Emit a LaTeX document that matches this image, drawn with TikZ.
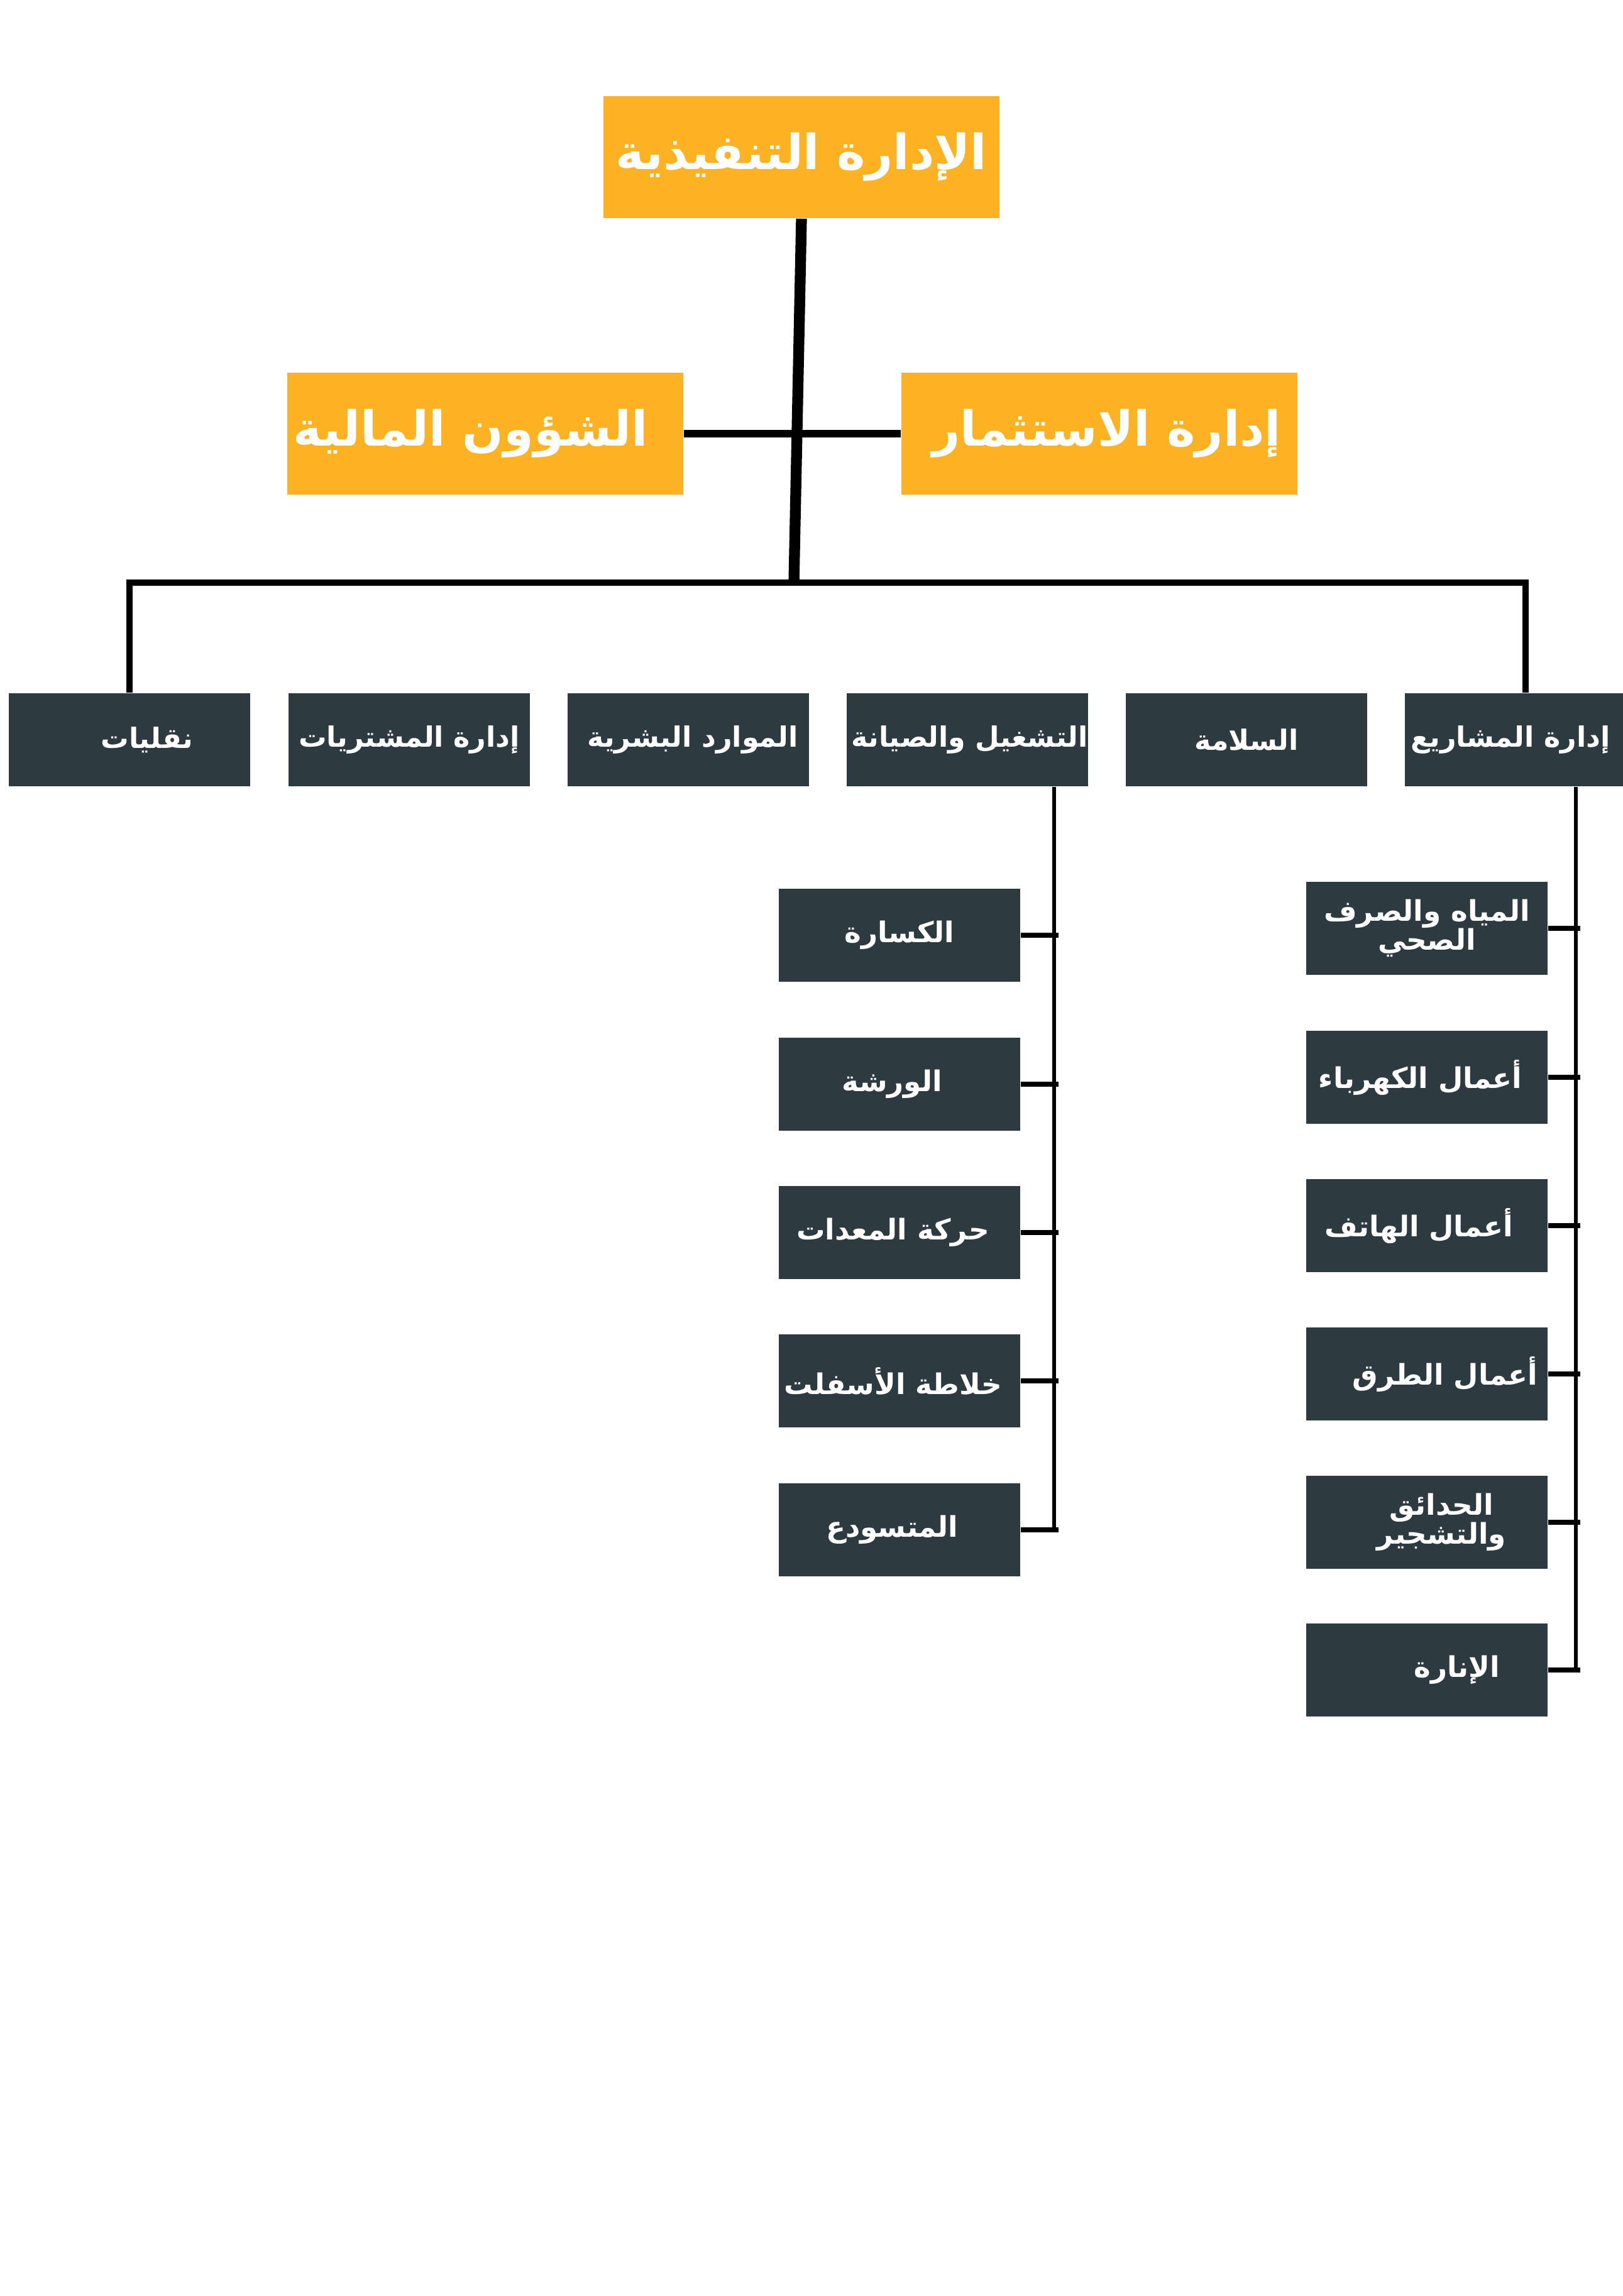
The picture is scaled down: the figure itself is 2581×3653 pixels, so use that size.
\documentclass[tikz,border=0pt]{standalone}
\usepackage{fontspec}
\usepackage{xcolor}
\usepackage{tikz}
\usetikzlibrary{positioning,calc}
\TeXXeTstate=1
\newfontfamily\arabicfont[Script=Arabic]{DejaVu Sans}
\definecolor{headorange}{RGB}{253,178,35}
\definecolor{deptslate}{RGB}{45,58,63}
\newcommand{\ar}[2][0pt]{\kern#1\kern#1{\arabicfont\bfseries\beginR #2\endR}}

\begin{document}
\begin{tikzpicture}[x=0.08136mm,y=-0.08136mm,
  headbox/.style={fill=headorange, text=white, inner sep=0pt, minimum width=51.3mm, minimum height=15.8mm, font=\fontsize{17.8}{21}\selectfont},
  deptbox/.style={fill=deptslate, text=white, inner sep=0pt, minimum width=31.2mm, minimum height=12.1mm, font=\fontsize{10.3}{12.4}\selectfont},
  subbox/.style={fill=deptslate, text=white, inner sep=0pt, minimum width=31.3mm, minimum height=12mm, align=center, font=\fontsize{10.5}{12.6}\selectfont},
  trunk/.style={line width=4pt},
  bus/.style={line width=2.5pt},
  spine/.style={line width=1.2pt},
  stub/.style={line width=2pt}]
\useasboundingbox (0,0) rectangle (2581,3653);

\node[headbox] (exec) at (1275,250) {\ar{الإدارة التنفيذية}};
\node[headbox] (fin) at (772,690) {\ar[-5.4pt]{الشؤون المالية}};
\node[headbox] (inv) at (1749,690) {\ar[2.7pt]{إدارة الاستثمار}};

\node[deptbox] (nql) at (206,1177) {\ar[6.4pt]{نقليات}};
\node[deptbox] (mshtr) at (651,1177) {\ar{إدارة المشتريات}};
\node[deptbox] (mwrd) at (1095,1177) {\ar[1.6pt]{الموارد البشرية}};
\node[deptbox] (ops) at (1539,1177) {\ar[0.8pt]{التشغيل والصيانة}};
\node[deptbox] (slm) at (1983,1177) {\ar{السلامة}};
\node[deptbox] (mshr) at (2427,1177) {\ar[-5.6pt]{إدارة المشاريع}};

\node[subbox] (op1) at (1431,1488) {\ar{الكسارة}};
\node[subbox] (op2) at (1431,1725) {\ar[-2.7pt]{الورشة}};
\node[subbox] (op3) at (1431,1961) {\ar[-2.4pt]{حركة المعدات}};
\node[subbox] (op4) at (1431,2197) {\ar[-2.4pt]{خلاطة الأسفلت}};
\node[subbox] (op5) at (1431,2434) {\ar[-2.7pt]{المتسودع}};

\node[subbox] (pr1) at (2270,1477) {\ar{المياه والصرف}\\[-2pt]\ar{الصحي}};
\node[subbox] (pr2) at (2270,1714) {\ar[-2.4pt]{أعمال الكهرباء}};
\node[subbox] (pr3) at (2270,1950) {\ar[-3pt]{أعمال الهاتف}};
\node[subbox] (pr4) at (2270,2186) {\ar[6.7pt]{أعمال الطرق}};
\node[subbox] (pr5) at (2270,2422) {\ar[5.4pt]{الحدائق}\\[-2pt]\ar[5.4pt]{والتشجير}};
\node[subbox] (pr6) at (2270,2657) {\ar[11pt]{الإنارة}};

\coordinate (hub) at (1263,927);
\draw[trunk] (exec.south) -- (hub);
\draw[line width=2.6pt] (fin.east) -- (inv.west);
\draw[bus] (nql.north) |- (hub) -| (mshr.north);

\coordinate (opsA) at ($(ops.south)+(138,0)$);
\draw[spine] (opsA) -- (opsA |- op5.east);
\foreach \n in {op1,op2,op3,op4,op5}
  \draw[stub] (\n.east) -- ($(\n.east -| opsA)+(7,0)$);

\coordinate (mshrA) at ($(mshr.south)+(80,0)$);
\draw[spine] (mshrA) -- (mshrA |- pr6.east);
\foreach \n in {pr1,pr2,pr3,pr4,pr5,pr6}
  \draw[stub] (\n.east) -- ($(\n.east -| mshrA)+(7,0)$);
\end{tikzpicture}
\end{document}
